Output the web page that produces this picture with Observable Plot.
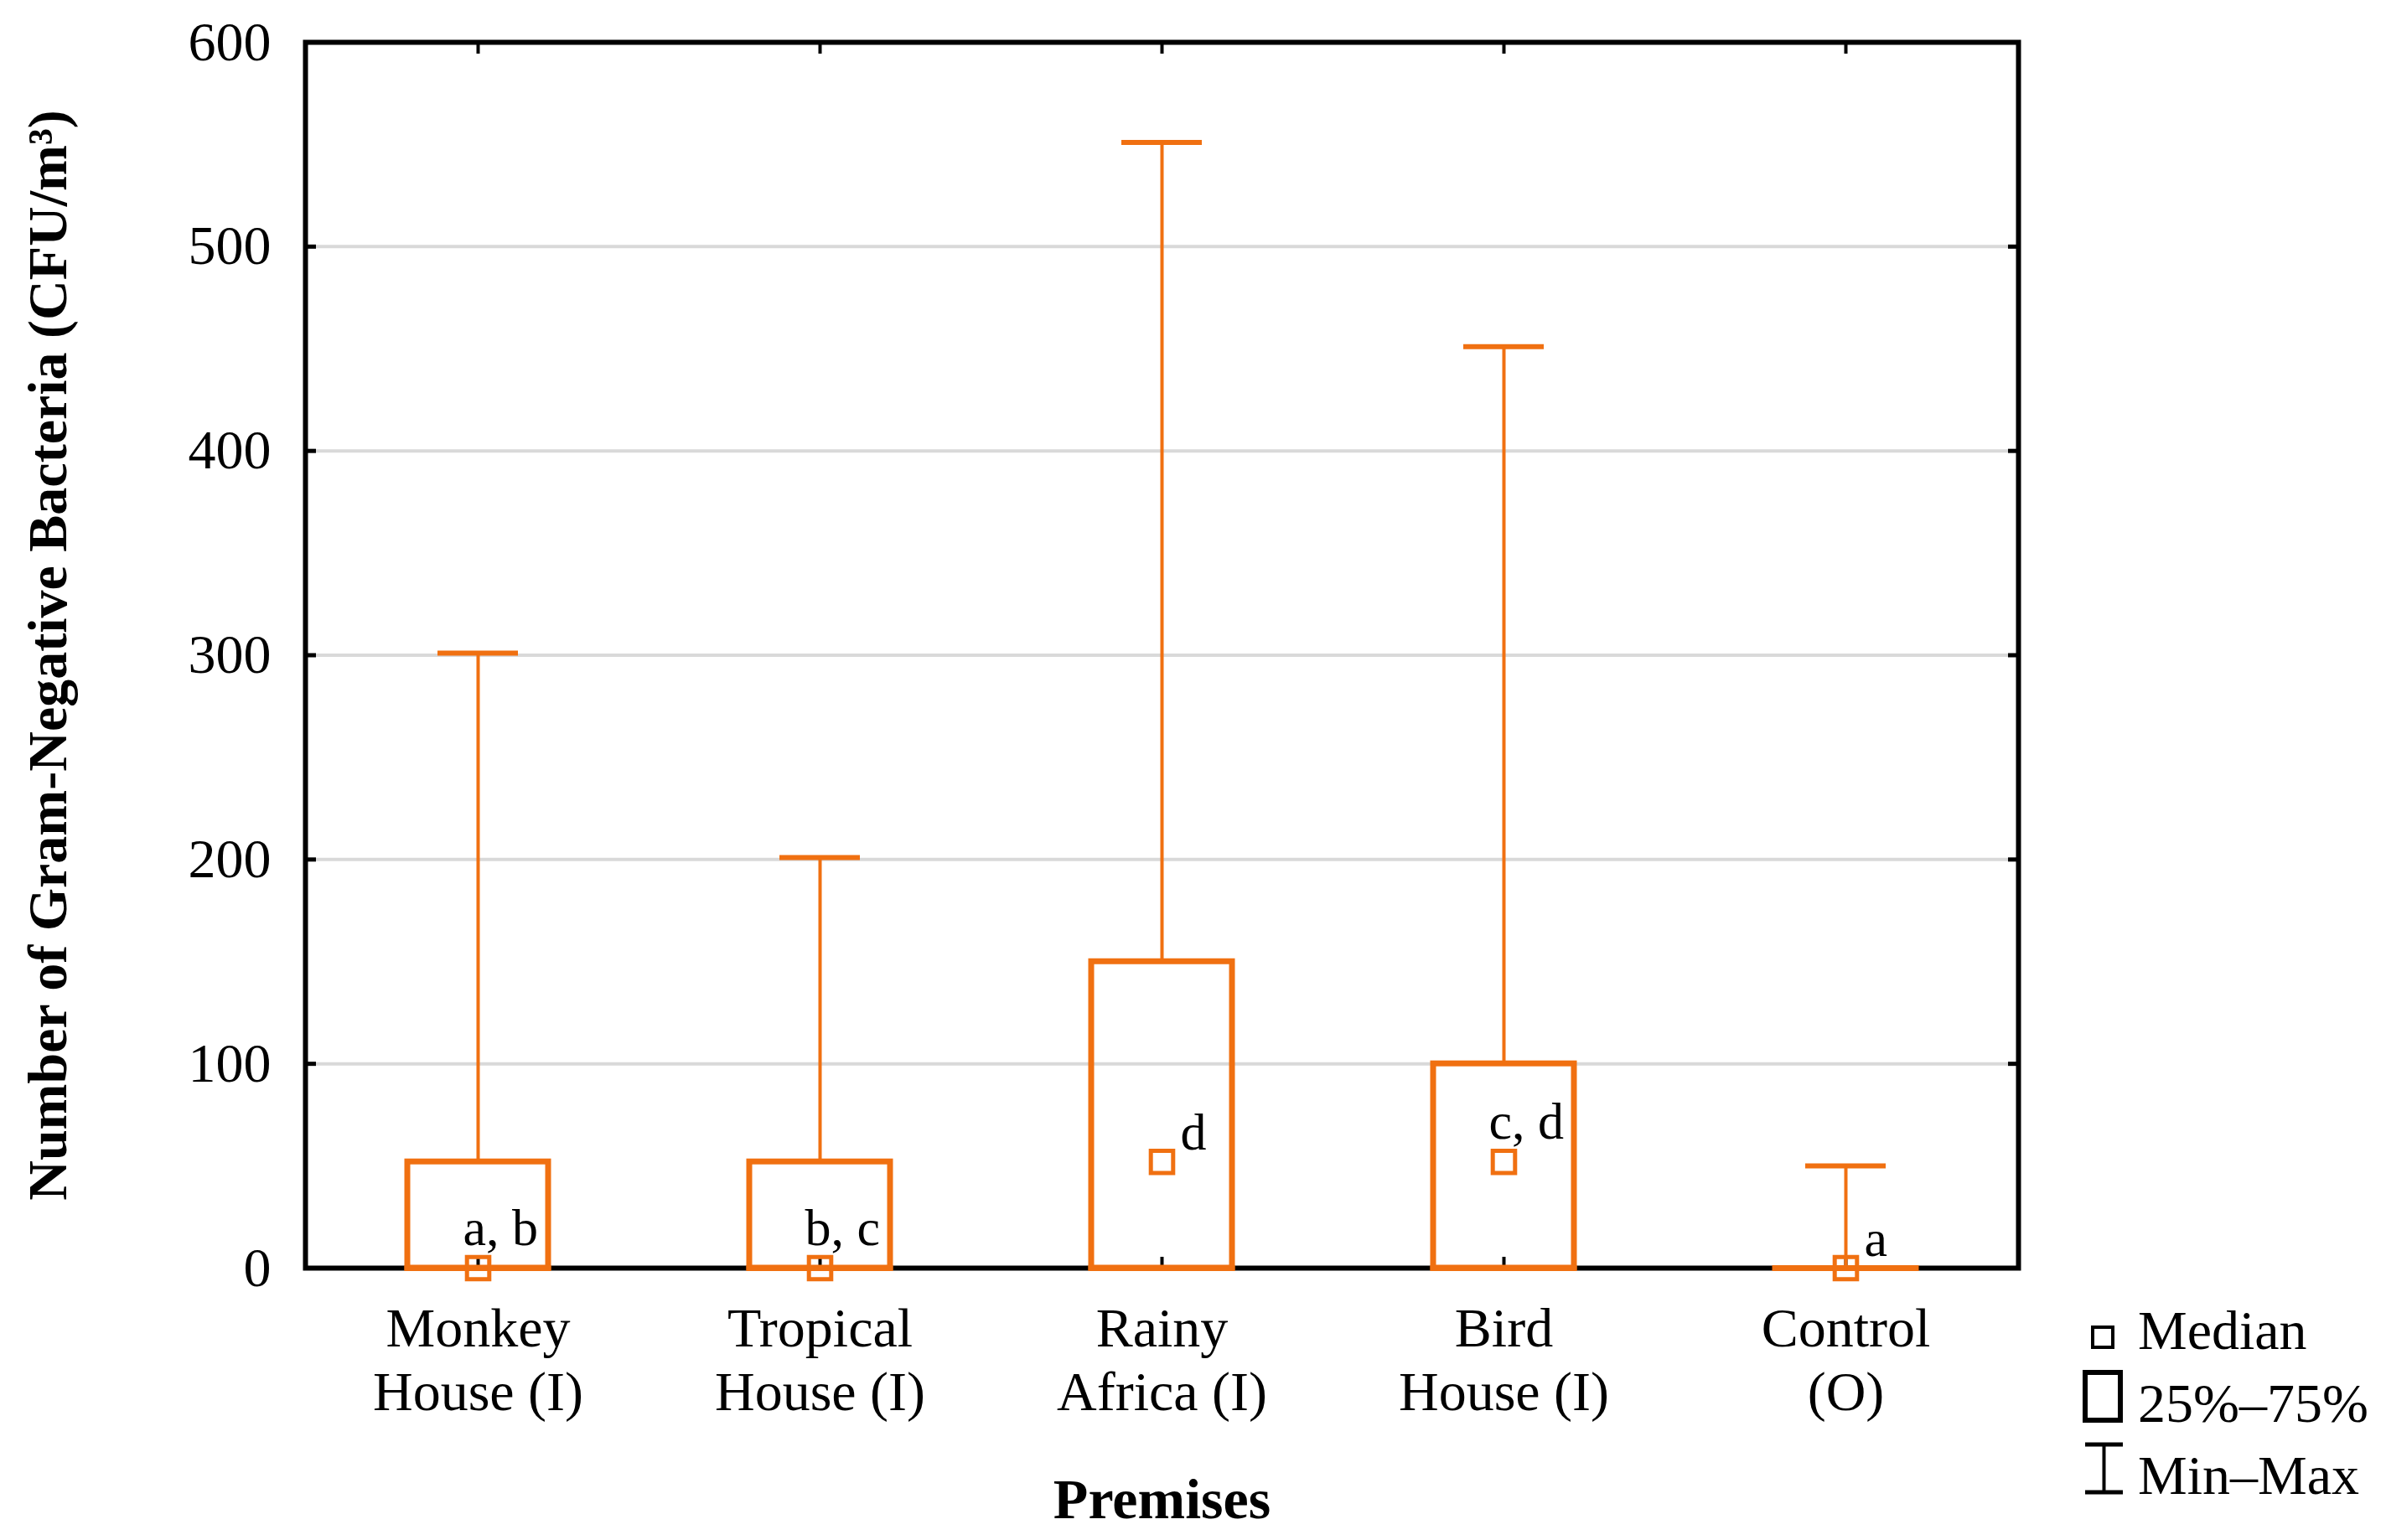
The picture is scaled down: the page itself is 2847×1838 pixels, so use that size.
<!DOCTYPE html>
<html>
<head>
<meta charset="utf-8">
<script src="https://cdn.jsdelivr.net/npm/d3@7"></script>
<script src="https://cdn.jsdelivr.net/npm/@observablehq/plot@0.6"></script>
<style>
  html, body { margin: 0; padding: 0; background: #ffffff; }
  #chart { width: 2847px; height: 1838px; }
</style>
</head>
<body>
<div id="chart"></div>
<script>
// ---- data ----
const categories = ["Monkey\nHouse (I)", "Tropical\nHouse (I)", "Rainy\nAfrica (I)", "Bird\nHouse (I)", "Control\n(O)"];
const minValues = [0, 0, 0, 0, 0];
const q1Values = [0, 0, 0, 0, 0];
const medianValues = [0, 0, 52, 52, 0];
const q3Values = [52, 52, 150, 100, 0];
const maxValues = [301, 201, 551, 451, 50];
const groupLabels = ["a, b", "b, c", "d", "c, d", "a"];
const yTicks = [0, 100, 200, 300, 400, 500, 600];
const gridValues = [100, 200, 300, 400, 500];
const legendLabels = ["Median", "25%–75%", "Min–Max"];
const xTitle = "Premises";
const yTitle = "Number of Gram-Negative Bacteria (CFU/m³)";

// ---- styling ----
const ORANGE = "#f07011";
const FONT = "'Liberation Serif', 'DejaVu Serif', serif";

const rows = categories.map((c, i) => ({
  cat: c, min: minValues[i], q1: q1Values[i], median: medianValues[i],
  q3: q3Values[i], max: maxValues[i], label: groupLabels[i]
}));
const pairLabels = rows.filter(d => d.label.length > 1);
const singleLabels = rows.filter(d => d.label.length === 1);

const plot = Plot.plot({
  width: 2847,
  height: 1838,
  marginLeft: 364,
  marginRight: 439,
  marginTop: 50,
  marginBottom: 325,
  style: { fontFamily: FONT, fontSize: "66px", color: "black", background: "white" },
  x: { domain: categories, padding: 0 },
  y: { domain: [0, 600] },
  marks: [
    Plot.ruleY(gridValues, { stroke: "#d9d9d9", strokeWidth: 4 }),
    Plot.frame({ stroke: "black", strokeWidth: 6 }),
    Plot.axisY({ anchor: "left", ticks: yTicks, tickSize: -13, tickPadding: 54, strokeWidth: 5, label: null, tickFormat: d => String(d) }),
    Plot.axisY({ anchor: "right", ticks: yTicks, tickSize: -13, strokeWidth: 5, label: null, tickFormat: () => "" }),
    Plot.axisX({ anchor: "bottom", tickSize: -13, tickPadding: 52, strokeWidth: 4, label: null, lineHeight: 1.16 }),
    Plot.axisX({ anchor: "top", tickSize: -13, strokeWidth: 4, label: null, tickFormat: () => "" }),
    // whiskers
    Plot.ruleX(rows, { x: "cat", y1: "q3", y2: "max", stroke: ORANGE, strokeWidth: 4 }),
    Plot.tickY(rows, { x: "cat", y: "max", stroke: ORANGE, strokeWidth: 6, insetLeft: 156, insetRight: 156 }),
    // boxes
    Plot.barY(rows, { x: "cat", y1: "q1", y2: "q3", fill: "none", stroke: ORANGE, strokeWidth: 7, insetLeft: 120, insetRight: 120 }),
    Plot.tickY(rows, { x: "cat", y: "q1", stroke: ORANGE, strokeWidth: 7, strokeLinecap: "square", insetLeft: 120, insetRight: 120 }),
    // medians
    Plot.dot(rows, { x: "cat", y: "median", symbol: "square", r: 15, fill: "none", stroke: ORANGE, strokeWidth: 5 }),
    // group letters
    Plot.text(pairLabels, { x: "cat", y: "median", text: "label", textAnchor: "start", lineAnchor: "bottom", dx: -18, dy: -28, fontSize: 62, fill: "black" }),
    Plot.text(singleLabels, { x: "cat", y: "median", text: "label", textAnchor: "start", lineAnchor: "bottom", dx: 22, dy: -15, fontSize: 62, fill: "black" }),
    // titles
    Plot.text([yTitle], { text: d => d, frameAnchor: "left", rotate: -90, dx: -286, lineAnchor: "bottom", textAnchor: "middle", fontSize: 66, fontWeight: "bold", fill: "black" }),
    Plot.text([xTitle], { text: d => d, frameAnchor: "bottom", dy: 298, lineAnchor: "bottom", textAnchor: "middle", fontSize: 68, fontWeight: "bold", fill: "black" })
  ]
});

// ---- legend (drawn into the same svg, outside the frame) ----
const svg = d3.select(plot);
const lg = svg.append("g").attr("fill", "none").attr("stroke", "black");
lg.append("rect").attr("x", 2497).attr("y", 1584).attr("width", 24).attr("height", 24).attr("stroke-width", 4);
lg.append("rect").attr("x", 2488).attr("y", 1638).attr("width", 42).attr("height", 57).attr("stroke-width", 6);
lg.append("line").attr("x1", 2488).attr("x2", 2533).attr("y1", 1724).attr("y2", 1724).attr("stroke-width", 5);
lg.append("line").attr("x1", 2488).attr("x2", 2533).attr("y1", 1781).attr("y2", 1781).attr("stroke-width", 5);
lg.append("line").attr("x1", 2510.5).attr("x2", 2510.5).attr("y1", 1724).attr("y2", 1781).attr("stroke-width", 4);
const baselines = [1610, 1697, 1783];
svg.append("g")
  .attr("font-family", FONT).attr("font-size", 66).attr("fill", "black").attr("text-anchor", "start")
  .selectAll("text").data(legendLabels).join("text")
  .attr("x", 2551).attr("y", (d, i) => baselines[i]).text(d => d);

document.getElementById("chart").appendChild(plot);
</script>
</body>
</html>
